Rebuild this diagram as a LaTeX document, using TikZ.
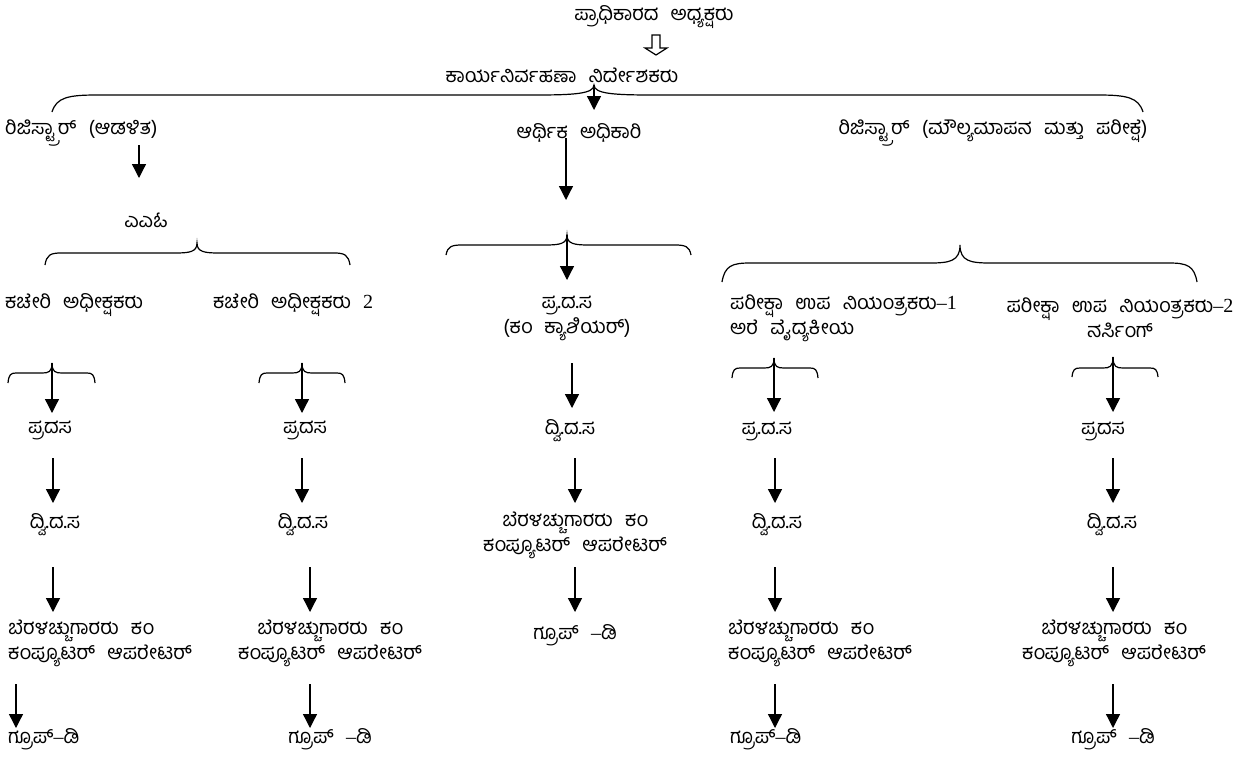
\documentclass[tikz,border=0pt]{standalone}
\usepackage{fontspec}
\newfontfamily\kn[Script=Kannada,WordSpace=2.5]{Hind Mysuru}
\newfontfamily\lat{Liberation Serif}
\usetikzlibrary{arrows.meta,calc}
% brace: #1 x1, #2 x2, #3 tip x, #4 end y, #5 flat y, #6 tip y, #7 end radius, #8 tip radius
\newcommand\kbrace[8]{%
  \draw[brc] (#1,#4) .. controls ({#1+0.1*#7},{#5+0.15*(#4-#5)}) and ({#1+0.35*#7},#5) .. ({#1+#7},#5)
    -- ({#3-#8},#5) .. controls ({#3-0.35*#8},#5) and (#3,{#5-0.1*(#5-#6)}) .. (#3,#6)
    .. controls (#3,{#5-0.1*(#5-#6)}) and ({#3+0.35*#8},#5) .. ({#3+#8},#5)
    -- ({#2-#7},#5) .. controls ({#2-0.35*#7},#5) and ({#2-0.1*#7},{#5+0.15*(#4-#5)}) .. (#2,#4);}
\begin{document}
\begin{tikzpicture}[x=1pt,y=-1pt,
  lbl/.style={font=\kn\fontsize{20}{25}\selectfont, inner sep=0pt, align=center},
  lbll/.style={lbl, anchor=west, align=left},
  arr/.style={line width=1.3pt, -{Triangle[length=14pt,width=14pt]}},
  brc/.style={line width=1.2pt},
  hollow/.style={line width=1.2pt}]
\useasboundingbox (0,0) rectangle (1258,758);

% top
\node[lbl] (pa) at (654,17) {ಪ್ರಾಧಿಕಾರದ ಅಧ್ಯಕ್ಷರು};
\coordinate (hat) at (656,35);
\draw[hollow] (hat) ++(-4,0) -- ++(0,13) -- ++(-7,0) -- ++(11,7) -- ++(11,-7) -- ++(-7,0) -- ++(0,-13) -- cycle;
\node[lbl] (kn) at (562,75) {ಕಾರ್ಯನಿರ್ವಹಣಾ ನಿರ್ದೇಶಕರು};

\kbrace{52}{1143}{594}{112}{95}{85}{45}{60}
\coordinate (t0) at (594,85);

\node[lbll] (ra) at (5,133) {ರಿಜಿಸ್ಟ್ರಾರ್ (ಆಡಳಿತ)};
\node[lbl] (af) at (579,133) {ಆರ್ಥಿಕ ಅಧಿಕಾರಿ};
\node[lbl] (rm) at (993,133) {ರಿಜಿಸ್ಟ್ರಾರ್ (ಮೌಲ್ಯಮಾಪನ ಮತ್ತು ಪರೀಕ್ಷೆ)};
\draw[arr] (t0) -- ($(af)+(15,-23)$);

\node[lbl] (aao) at (146,220) {ಎಎಓ};
\draw[arr] ($(ra.west)+(134,12)$) -- ($(aao)+(-7,-42)$);

\kbrace{45}{350}{197}{265}{253}{243}{16}{22}
\kbrace{446}{691}{567}{255}{245}{235}{16}{22}
\kbrace{722}{1197}{960}{282}{263}{245}{28}{30}
\coordinate (t3) at (567,235);
\draw[arr] ($(af)+(-13,5)$) -- ($(af)+(-13,67)$);

% row 3
\node[lbll] (ko1) at (5,305) {ಕಚೇರಿ ಅಧೀಕ್ಷಕರು};
\node[lbll] (ko2) at (213,305) {ಕಚೇರಿ ಅಧೀಕ್ಷಕರು {\lat 2}};
\node[lbl] (cp) at (567,318) {ಪ್ರ.ದ.ಸ\\(ಕಂ ಕ್ಯಾಶಿಯರ್)};
\node[lbll] (pu1) at (730,318) {ಪರೀಕ್ಷಾ ಉಪ ನಿಯಂತ್ರಕರು{\lat –1}\\ಅರೆ ವೈದ್ಯಕೀಯ};
\node[lbl] (pu2) at (1120,318) {ಪರೀಕ್ಷಾ ಉಪ ನಿಯಂತ್ರಕರು{\lat –2}\\ನರ್ಸಿಂಗ್};
\draw[arr] (t3) -- ($(cp)+(0,-38)$);

\kbrace{8}{95}{52}{383}{373}{363}{8}{10}
\kbrace{259}{345}{302}{383}{373}{363}{8}{10}
\kbrace{732}{818}{774}{378}{368}{358}{8}{10}
\kbrace{1072}{1158}{1113}{377}{368}{357}{8}{10}
\coordinate (tA) at (52,363);
\coordinate (tB) at (302,363);
\coordinate (tC) at (774,358);
\coordinate (tD) at (1113,357);

% row 4
\node[lbl] (p1) at (50,430) {ಪ್ರದಸ};
\node[lbl] (p2) at (305,430) {ಪ್ರದಸ};
\node[lbl] (cd) at (570,431) {ದ್ವಿ.ದ.ಸ};
\node[lbl] (p4) at (767,431) {ಪ್ರ.ದ.ಸ};
\node[lbl] (p5) at (1103,431) {ಪ್ರದಸ};
\draw[arr] (tA) -- ($(p1)+(2,-17)$);
\draw[arr] (tB) -- ($(p2)+(-3,-17)$);
\draw[arr] (tC) -- ($(p4)+(7,-19)$);
\draw[arr] (tD) -- ($(p5)+(10,-19)$);
\draw[arr] ($(cp)+(5,45)$) -- ($(cd)+(2,-23)$);

% row 5
\node[lbl] (d1) at (55,525) {ದ್ವಿ.ದ.ಸ};
\node[lbl] (d2) at (303,525) {ದ್ವಿ.ದ.ಸ};
\node[lbl] (cb) at (575,535) {ಬೆರಳಚ್ಚುಗಾರರು ಕಂ\\ಕಂಪ್ಯೂಟರ್ ಆಪರೇಟರ್};
\node[lbl] (d4) at (777,525) {ದ್ವಿ.ದ.ಸ};
\node[lbl] (d5) at (1112,525) {ದ್ವಿ.ದ.ಸ};
\draw[arr] ($(p1)+(3,28)$) -- ($(d1)+(-2,-22)$);
\draw[arr] ($(p2)+(-3,28)$) -- ($(d2)+(-1,-22)$);
\draw[arr] ($(cd)+(5,27)$) -- ($(cb)+(0,-32)$);
\draw[arr] ($(p4)+(8,27)$) -- ($(d4)+(-2,-22)$);
\draw[arr] ($(p5)+(10,27)$) -- ($(d5)+(1,-22)$);

% row 6
\node[lbll] (b1) at (8,643) {ಬೆರಳಚ್ಚುಗಾರರು ಕಂ\\ಕಂಪ್ಯೂಟರ್ ಆಪರೇಟರ್};
\node[lbl] (b2) at (330,643) {ಬೆರಳಚ್ಚುಗಾರರು ಕಂ\\ಕಂಪ್ಯೂಟರ್ ಆಪರೇಟರ್};
\node[lbl] (cg) at (575,635) {ಗ್ರೂಪ್ {\lat –}ಡಿ};
\node[lbll] (b4) at (728,643) {ಬೆರಳಚ್ಚುಗಾರರು ಕಂ\\ಕಂಪ್ಯೂಟರ್ ಆಪರೇಟರ್};
\node[lbl] (b5) at (1114,643) {ಬೆರಳಚ್ಚುಗಾರರು ಕಂ\\ಕಂಪ್ಯೂಟರ್ ಆಪರೇಟರ್};
\draw[arr] ($(d1)+(-2,42)$) -- ($(b1.west)+(45,-31)$);
\draw[arr] ($(d2)+(7,42)$) -- ($(b2)+(-20,-31)$);
\draw[arr] ($(cb)+(0,32)$) -- ($(cg)+(0,-23)$);
\draw[arr] ($(d4)+(-2,42)$) -- ($(b4.west)+(47,-31)$);
\draw[arr] ($(d5)+(1,42)$) -- ($(b5)+(-1,-31)$);

% row 7
\node[lbll] (g1) at (8,739) {ಗ್ರೂಪ್{\lat –}ಡಿ};
\node[lbl] (g2) at (330,739) {ಗ್ರೂಪ್ {\lat –}ಡಿ};
\node[lbll] (g4) at (730,739) {ಗ್ರೂಪ್{\lat –}ಡಿ};
\node[lbl] (g5) at (1113,739) {ಗ್ರೂಪ್ {\lat –}ಡಿ};
\draw[arr] ($(b1.west)+(8,41)$) -- ($(g1.west)+(8,-11)$);
\draw[arr] ($(b2)+(-20,41)$) -- ($(g2)+(-20,-11)$);
\draw[arr] ($(b4.west)+(47,41)$) -- ($(g4.west)+(45,-11)$);
\draw[arr] ($(b5)+(-1,41)$) -- ($(g5)+(0,-11)$);
\end{tikzpicture}
\end{document}
